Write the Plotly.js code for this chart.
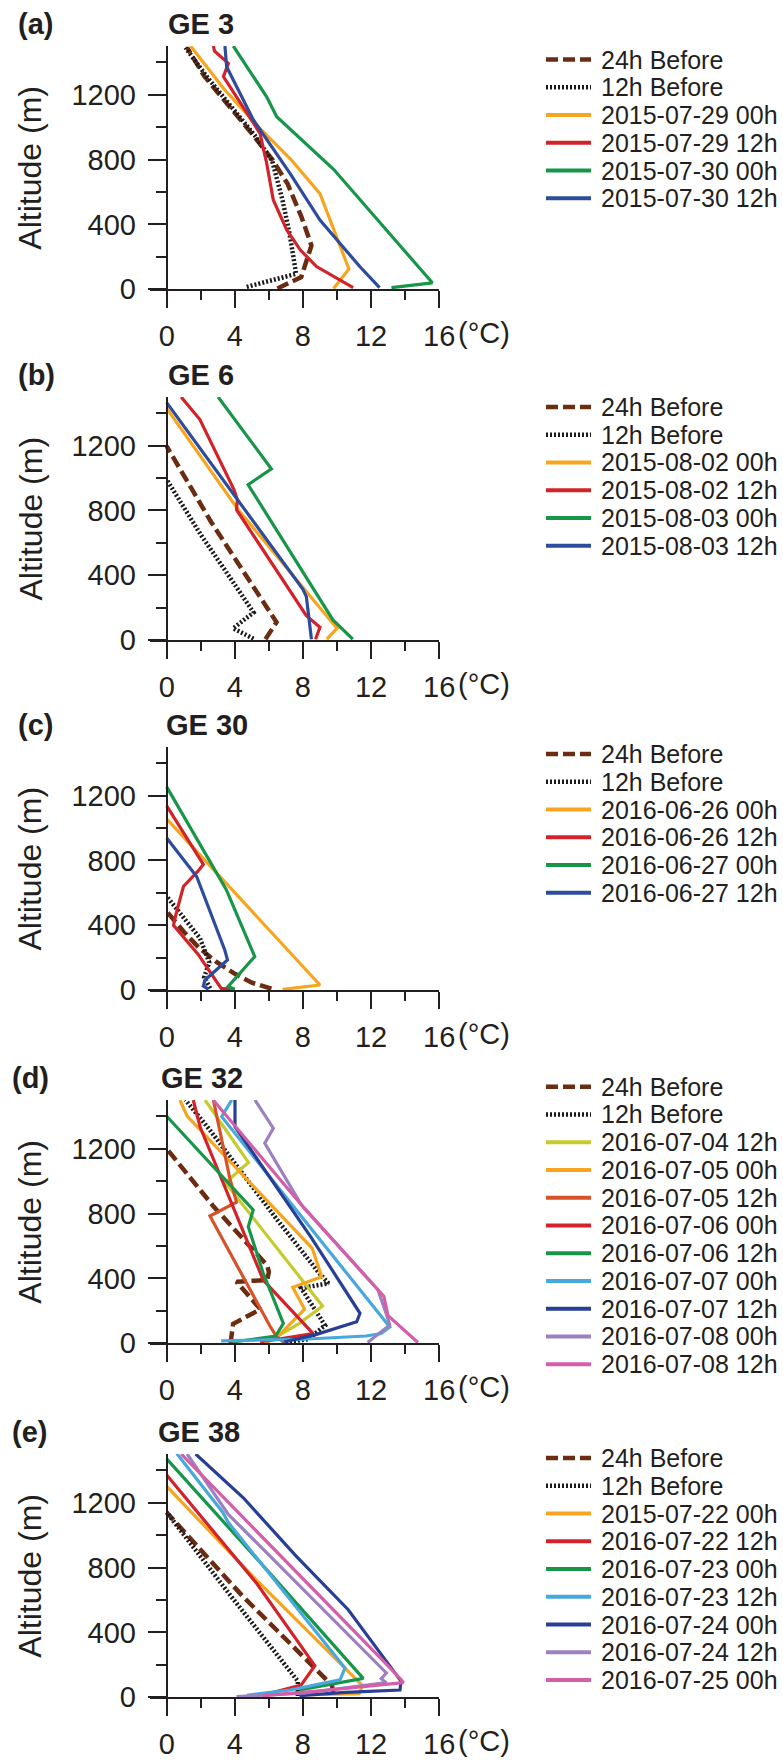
<!DOCTYPE html>
<html><head><meta charset="utf-8">
<script src="https://cdn.plot.ly/plotly-3.0.1.min.js"></script>
<style>html,body{margin:0;padding:0;background:#fff}#chart{width:783px;height:1760px}</style>
</head><body><div id="chart"></div>
<script>
// ---------------- DATA (temperature °C, altitude m) ----------------
// (a) GE 3
const a_24h_T = [6.5, 7.9, 8.5, 7.9, 7.1, 6.2, 5.0, 3.6, 2.2, 1.2];
const a_24h_Z = [5, 75, 270, 450, 650, 800, 960, 1140, 1315, 1490];
const a_12h_T = [4.7, 7.6, 7.4, 7.2, 6.8, 6.5, 6.2, 5.2, 3.8, 2.4, 1.1];
const a_12h_Z = [15, 95, 225, 350, 550, 680, 790, 945, 1130, 1305, 1490];
const a_s1_T = [9.8, 10.7, 9.0, 7.3, 5.4, 3.4, 1.4];
const a_s1_Z = [5, 125, 590, 800, 1000, 1230, 1500];
const a_s2_T = [10.95, 8.8, 7.85, 7.05, 6.26, 5.87, 5.48, 4.4, 3.33, 3.62, 2.8, 2.75];
const a_s2_Z = [10, 140, 242, 366, 551, 777, 962, 1140, 1311, 1393, 1470, 1500];
const a_s3_T = [13.2, 15.6, 9.8, 6.46, 5.87, 3.91];
const a_s3_Z = [10, 40, 740, 1064, 1187, 1500];
const a_s4_T = [12.5, 11.35, 9.0, 7.24, 5.09, 3.52, 3.42];
const a_s4_Z = [10, 139, 427, 715, 1044, 1372, 1500];
const a_names = ['24h Before', '12h Before', '2015-07-29 00h', '2015-07-29 12h', '2015-07-30 00h', '2015-07-30 12h'];

// (b) GE 6
const b_24h_T = [5.8, 6.45, 4.4, 2.6, 0];
const b_24h_Z = [5, 110, 440, 730, 1196];
const b_12h_T = [5.1, 3.9, 5.1, 4.3, 3.3, 2.0, 1.0, 0];
const b_12h_Z = [8, 72, 170, 300, 450, 650, 820, 990];
const b_s1_T = [9.4, 10.0, 4.2, 0];
const b_s1_Z = [5, 72, 804, 1430];
const b_s2_T = [8.74, 9.0, 8.2, 4.1, 4.15, 3.95, 1.95, 0.85];
const b_s2_Z = [5, 78, 150, 804, 866, 928, 1361, 1500];
const b_s3_T = [10.93, 9.76, 4.78, 6.15, 3.02];
const b_s3_Z = [5, 124, 959, 1056, 1500];
const b_s4_T = [8.5, 8.2, 8.0, 4.0, 0];
const b_s4_Z = [5, 268, 313, 887, 1465];
const b_names = ['24h Before', '12h Before', '2015-08-02 00h', '2015-08-02 12h', '2015-08-03 00h', '2015-08-03 12h'];

// (c) GE 30
const c_24h_T = [6.15, 5.0, 4.0, 2.9, 1.9, 1.0, 0];
const c_24h_Z = [8, 45, 100, 175, 260, 360, 485];
const c_12h_T = [2.55, 2.2, 2.5, 1.95, 0];
const c_12h_Z = [10, 80, 170, 320, 578];
const c_s1_T = [6.8, 9.0, 0];
const c_s1_Z = [4, 31, 1056];
const c_s2_T = [4.0, 3.2, 1.85, 0.4, 0.55, 0.98, 1.85, 2.15, 0];
const c_s2_Z = [4, 10, 220, 400, 470, 639, 735, 775, 1136];
const c_s3_T = [4.0, 3.6, 5.17, 3.5, 0];
const c_s3_Z = [4, 21, 206, 619, 1254];
const c_s4_T = [2.45, 2.15, 2.25, 2.93, 3.57, 3.41, 1.76, 0];
const c_s4_Z = [4, 25, 62, 124, 186, 247, 701, 938];
const c_names = ['24h Before', '12h Before', '2016-06-26 00h', '2016-06-26 12h', '2016-06-27 00h', '2016-06-27 12h'];

// (d) GE 32
const d_24h_T = [3.75, 3.9, 5.5, 4.1, 5.9, 6.0, 5.9, 4.4, 2.7, 0];
const d_24h_Z = [0, 120, 210, 380, 390, 440, 480, 650, 850, 1200];
const d_12h_T = [7.0, 8.3, 9.3, 8.3, 7.9, 9.5, 8.9, 6.5, 4.4, 2.5, 1.1];
const d_12h_Z = [8, 25, 110, 280, 340, 370, 440, 760, 1050, 1320, 1500];
const d_s1_T = [5.85, 7.8, 9.15, 3.45, 4.8, 2.25];
const d_s1_Z = [5, 123, 230, 990, 1115, 1500];
const d_s2_T = [5.87, 6.55, 8.1, 7.4, 9.1, 8.55, 1.2, 0.78];
const d_s2_Z = [8, 45, 210, 345, 410, 585, 1400, 1500];
const d_s3_T = [6.9, 6.46, 6.07, 2.54, 4.1, 3.7, 2.74];
const d_s3_Z = [5, 40, 105, 785, 870, 1020, 1500];
const d_s4_T = [5.48, 8.6, 5.67, 1.96, 1.56];
const d_s4_Z = [8, 60, 390, 1335, 1500];
const d_s5_T = [3.9, 6.4, 6.85, 5.67, 4.79, 5.08, 0];
const d_s5_Z = [8, 45, 123, 432, 719, 822, 1400];
const d_s6_T = [3.2, 8.0, 11.7, 12.6, 13.1, 8.6, 4.7, 3.23, 3.82];
const d_s6_Z = [15, 25, 45, 60, 100, 690, 1200, 1397, 1500];
const d_s7_T = [6.9, 8.8, 11.16, 11.35, 8.5, 4.01, 4.01];
const d_s7_Z = [8, 55, 133, 185, 650, 1335, 1500];
const d_s8_T = [11.8, 13.1, 12.9, 12.4, 7.9, 5.76, 6.26, 5.18];
const d_s8_Z = [5, 113, 180, 330, 856, 1233, 1326, 1500];
const d_s9_T = [14.75, 13.0, 12.75, 8.1, 2.73];
const d_s9_Z = [5, 170, 290, 830, 1500];
const d_names = ['24h Before', '12h Before', '2016-07-04 12h', '2016-07-05 00h', '2016-07-05 12h', '2016-07-06 00h',
  '2016-07-06 12h', '2016-07-07 00h', '2016-07-07 12h', '2016-07-08 00h', '2016-07-08 12h'];

// (e) GE 38
const e_24h_T = [9.8, 9.7, 4.4, 0];
const e_24h_Z = [20, 75, 630, 1140];
const e_12h_T = [7.7, 7.7, 3.8, 0];
const e_12h_Z = [8, 100, 620, 1140];
const e_s1_T = [7.8, 11.3, 11.5, 5.2, 0];
const e_s1_Z = [15, 22, 72, 730, 1300];
const e_s2_T = [5.6, 7.9, 8.7, 5.3, 0];
const e_s2_Z = [12, 76, 195, 700, 1370];
const e_s3_T = [7.8, 11.54, 5.5, 0];
const e_s3_Z = [45, 117, 830, 1470];
const e_s4_T = [4.7, 7.24, 10.18, 10.47, 3.6, 3.3, 0.59];
const e_s4_Z = [12, 45, 107, 180, 1080, 1140, 1503];
const e_s5_T = [7.8, 10.5, 13.7, 13.76, 10.66, 7.6, 4.5, 1.7];
const e_s5_Z = [10, 30, 45, 100, 540, 870, 1230, 1500];
const e_s6_T = [4.1, 8.0, 12.9, 12.6, 12.9, 3.6, 1.2];
const e_s6_Z = [5, 25, 90, 115, 150, 1130, 1500];
const e_s7_T = [5.7, 9.0, 13.9, 13.76, 12.8, 0.85];
const e_s7_Z = [10, 40, 90, 110, 215, 1500];
const e_names = ['24h Before', '12h Before', '2015-07-22 00h', '2016-07-22 12h', '2016-07-23 00h', '2016-07-23 12h',
  '2016-07-24 00h', '2016-07-24 12h', '2016-07-25 00h'];

const panelTitles = ['GE 3', 'GE 6', 'GE 30', 'GE 32', 'GE 38'];
const panelTags = ['(a)', '(b)', '(c)', '(d)', '(e)'];
const xTicks = [0, 4, 8, 12, 16];
const yTicks = [0, 400, 800, 1200];

// ---------------- STYLE / LAYOUT ----------------
const C = {brown:'#6b2d12', black:'#1a1a1a', orange:'#f7a51e', red:'#d2232a', green:'#17964a', blue:'#2d4c9c',
  yg:'#c6cb2d', rorange:'#d6532a', lblue:'#48a8dd', dblue:'#283f96', purple:'#9c80bf', pink:'#d45ea8'};
const FONT = '"Liberation Sans", Arial, sans-serif';
const INK = '#231f20';
const W = 783, H = 1760;
const fx = p => p / W, fy = p => 1 - p / H;
const X0 = 166.7, PXC = 17.03;

const panels = [
  {series:[[a_24h_T,a_24h_Z],[a_12h_T,a_12h_Z],[a_s1_T,a_s1_Z],[a_s2_T,a_s2_Z],[a_s3_T,a_s3_Z],[a_s4_T,a_s4_Z]],
   names:a_names, colors:[C.orange,C.red,C.green,C.blue], top:46, bottom:289.3, legTop:59.5, tagX:16, titleX:166},
  {series:[[b_24h_T,b_24h_Z],[b_12h_T,b_12h_Z],[b_s1_T,b_s1_Z],[b_s2_T,b_s2_Z],[b_s3_T,b_s3_Z],[b_s4_T,b_s4_Z]],
   names:b_names, colors:[C.orange,C.red,C.green,C.blue], top:397, bottom:640, legTop:407, tagX:16, titleX:166},
  {series:[[c_24h_T,c_24h_Z],[c_12h_T,c_12h_Z],[c_s1_T,c_s1_Z],[c_s2_T,c_s2_Z],[c_s3_T,c_s3_Z],[c_s4_T,c_s4_Z]],
   names:c_names, colors:[C.orange,C.red,C.green,C.blue], top:747, bottom:990, legTop:754, tagX:16, titleX:164},
  {series:[[d_24h_T,d_24h_Z],[d_12h_T,d_12h_Z],[d_s1_T,d_s1_Z],[d_s2_T,d_s2_Z],[d_s3_T,d_s3_Z],[d_s4_T,d_s4_Z],
           [d_s5_T,d_s5_Z],[d_s6_T,d_s6_Z],[d_s7_T,d_s7_Z],[d_s8_T,d_s8_Z],[d_s9_T,d_s9_Z]],
   names:d_names, colors:[C.yg,C.orange,C.rorange,C.red,C.green,C.lblue,C.dblue,C.purple,C.pink],
   top:1100, bottom:1343.3, legTop:1086.7, tagX:10, titleX:159},
  {series:[[e_24h_T,e_24h_Z],[e_12h_T,e_12h_Z],[e_s1_T,e_s1_Z],[e_s2_T,e_s2_Z],[e_s3_T,e_s3_Z],[e_s4_T,e_s4_Z],
           [e_s5_T,e_s5_Z],[e_s6_T,e_s6_Z],[e_s7_T,e_s7_Z]],
   names:e_names, colors:[C.orange,C.red,C.green,C.lblue,C.dblue,C.purple,C.pink],
   top:1454, bottom:1697.3, legTop:1458, tagX:10, titleX:156}
];
const LEG_STEP = 27.75;

function lineStyle(idx, colors) {
  if (idx === 0) return {color:C.brown, width:4.5, dash:'12px,5px'};
  if (idx === 1) return {color:C.black, width:4.5, dash:'2px,2px'};
  return {color:colors[idx - 2], width:3.2, dash:'solid'};
}

const traces = [];
const layout = {
  width:W, height:H, margin:{l:0, r:0, t:0, b:0},
  paper_bgcolor:'#ffffff', plot_bgcolor:'rgba(0,0,0,0)', showlegend:false,
  font:{family:FONT, color:INK}, shapes:[], annotations:[]
};

panels.forEach((p, i) => {
  const k = i === 0 ? '' : String(i + 1);
  p.series.forEach((s, j) => {
    traces.push({type:'scatter', mode:'lines', x:s[0], y:s[1], name:p.names[j],
      xaxis:'x' + k, yaxis:'y' + k, line:lineStyle(j, p.colors), hoverinfo:'skip'});
  });
  layout['xaxis' + k] = {
    domain:[fx(X0 - PXC), fx(X0 + 16 * PXC)], range:[-1, 16.001], anchor:'y' + k,
    showgrid:false, zeroline:false, showline:true, linecolor:INK, linewidth:2,
    tickmode:'array', tickvals:xTicks, ticktext:xTicks.map(String),
    ticks:'outside', ticklen:17, tickwidth:2, tickcolor:INK, ticklabelstandoff:3,
    minor:{dtick:2, tick0:0, ticks:'outside', ticklen:9, tickwidth:2, tickcolor:INK, showgrid:false},
    tickfont:{family:FONT, size:29, color:INK}, fixedrange:true
  };
  layout['yaxis' + k] = {
    domain:[fy(p.bottom), fy(p.top)], range:[0, 1500], anchor:'free', position:fx(X0),
    showgrid:false, zeroline:false, showline:true, linecolor:INK, linewidth:2,
    tickmode:'array', tickvals:yTicks, ticktext:yTicks.map(String),
    ticks:'outside', ticklen:18, tickwidth:2, tickcolor:INK, ticklabelstandoff:6,
    minor:{dtick:200, tick0:0, ticks:'outside', ticklen:10, tickwidth:2, tickcolor:INK, showgrid:false},
    tickfont:{family:FONT, size:29, color:INK}, fixedrange:true
  };
  // panel tag and title
  const tcy = p.top - 22;
  layout.annotations.push({xref:'paper', yref:'paper', x:fx(p.tagX), y:fy(tcy), xanchor:'left', yanchor:'middle',
    text:'<b>' + panelTags[i] + '</b>', showarrow:false, font:{family:FONT, size:29, color:INK}});
  layout.annotations.push({xref:'paper', yref:'paper', x:fx(p.titleX), y:fy(tcy), xanchor:'left', yanchor:'middle',
    text:'<b>' + panelTitles[i] + '</b>', showarrow:false, font:{family:FONT, size:29, color:INK}});
  // y axis title
  layout.annotations.push({xref:'paper', yref:'paper', x:fx(30), y:fy((p.top + p.bottom) / 2), xanchor:'center', yanchor:'middle',
    text:'Altitude (m)', textangle:-90, showarrow:false, font:{family:FONT, size:32, color:INK}});
  // unit label after x ticks
  layout.annotations.push({xref:'paper', yref:'paper', x:fx(456), y:fy(p.bottom + 44), xanchor:'left', yanchor:'middle',
    text:'(°C)', showarrow:false, font:{family:FONT, size:29, color:INK}});
  // legend (drawn manually to match the compact row spacing)
  p.names.forEach((nm, j) => {
    const yy = p.legTop + j * LEG_STEP;
    const st = lineStyle(j, p.colors);
    layout.shapes.push({type:'line', xref:'paper', yref:'paper', x0:fx(546), x1:fx(591), y0:fy(yy), y1:fy(yy),
      line:{color:st.color, width:j < 2 ? 4.5 : 4, dash:j === 1 ? '2px,2px' : st.dash}});
    layout.annotations.push({xref:'paper', yref:'paper', x:fx(599), y:fy(yy), xanchor:'left', yanchor:'middle',
      text:nm, showarrow:false, font:{family:FONT, size:25, color:INK}});
  });
});

Plotly.newPlot('chart', traces, layout, {staticPlot:true, displayModeBar:false});
</script></body></html>
